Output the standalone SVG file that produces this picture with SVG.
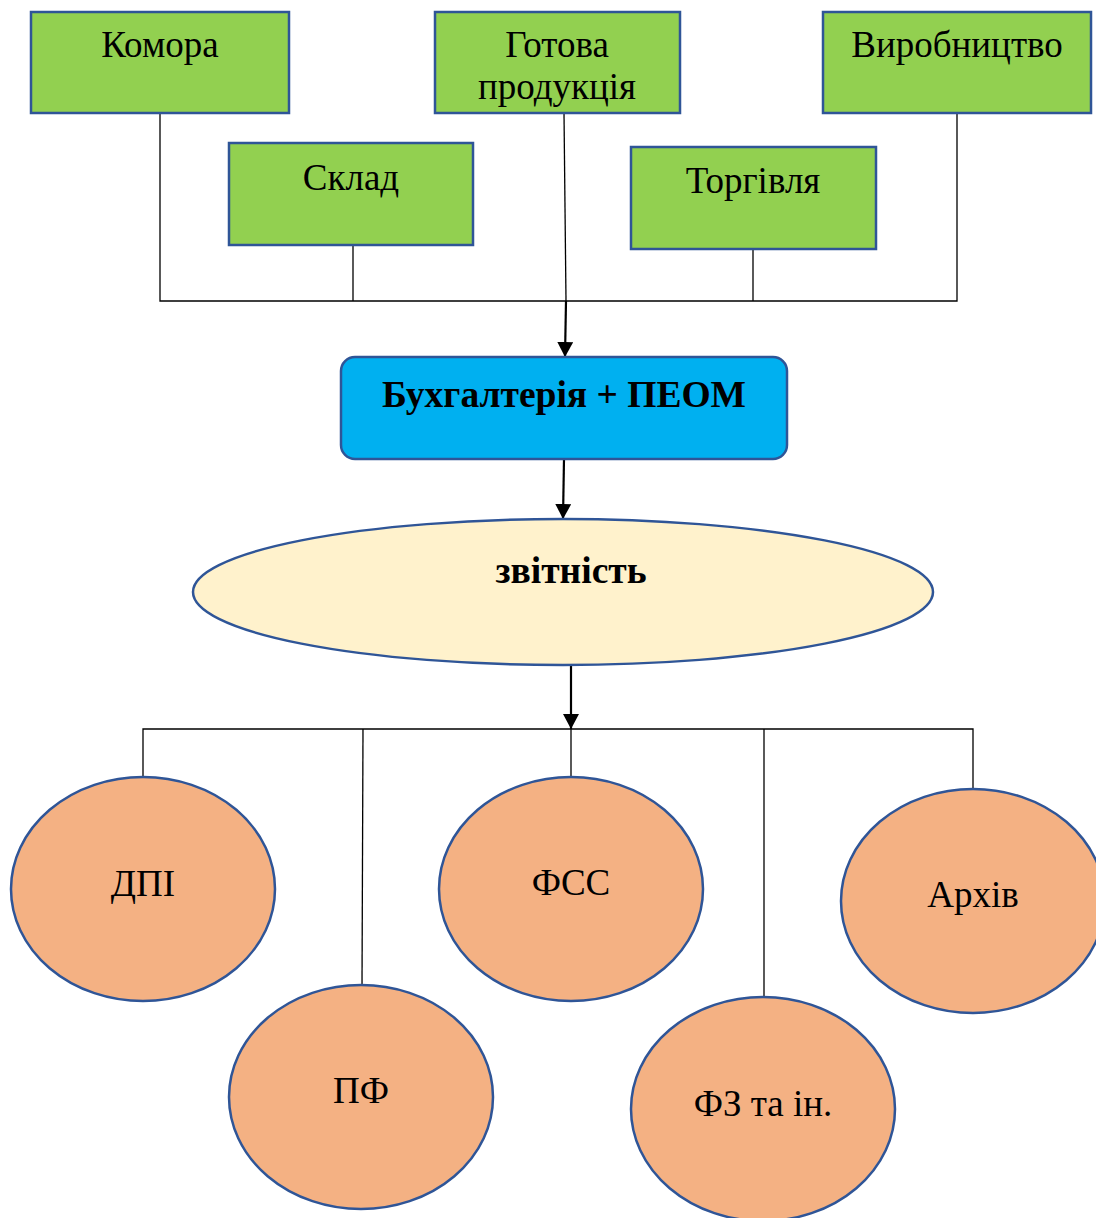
<svg xmlns="http://www.w3.org/2000/svg" width="1096" height="1218" viewBox="0 0 1096 1218">
<style>
.box{fill:#92D050;stroke:#2F5597;stroke-width:2.5}
.acc{fill:#00B0F0;stroke:#2F5597;stroke-width:2.5}
.rep{fill:#FFF2CC;stroke:#2F5597;stroke-width:2.5}
.org{fill:#F4B183;stroke:#2F5597;stroke-width:2.5}
text{font-family:"Liberation Serif","Times New Roman",serif;font-size:37px;fill:#000;text-anchor:middle}
.b{font-weight:bold;font-size:37.5px}
.ln{fill:none;stroke:#000;stroke-width:1.3}
.ar{fill:none;stroke:#000;stroke-width:2.2}
</style>
<defs>
<marker id="ah" markerUnits="userSpaceOnUse" markerWidth="16" markerHeight="16" refX="15" refY="8" orient="auto">
<path d="M0,0 L15,8 L0,16 Z" fill="#000"/>
</marker>
</defs>
<g id="connectors">
<polyline class="ln" points="160,113 160,301 957,301 957,113"/>
<line class="ln" x1="353" y1="245" x2="353" y2="301"/>
<line class="ln" x1="753" y1="249" x2="753" y2="301"/>
<line class="ln" x1="564" y1="113" x2="566" y2="301"/>
<line class="ar" x1="566" y1="301" x2="565" y2="357" marker-end="url(#ah)"/>
<line class="ar" x1="564" y1="459" x2="563" y2="519" marker-end="url(#ah)"/>
<line class="ar" x1="571" y1="665" x2="571" y2="729" marker-end="url(#ah)"/>
<polyline class="ln" points="143,777 143,729 973,729 973,790"/>
<line class="ln" x1="363" y1="729" x2="362" y2="986"/>
<line class="ln" x1="571" y1="729" x2="571" y2="777"/>
<line class="ln" x1="764" y1="729" x2="764" y2="997"/>
</g>
<g id="komora"><rect class="box" x="31" y="12" width="258" height="101"/><text x="160" y="57">Комора</text></g>
<g id="gotova"><rect class="box" x="435" y="12" width="245" height="101"/><text x="557" y="57">Готова</text><text x="557" y="99">продукція</text></g>
<g id="vyrobnytstvo"><rect class="box" x="823" y="12" width="268" height="101"/><text x="957" y="57">Виробництво</text></g>
<g id="sklad"><rect class="box" x="229" y="143" width="244" height="102"/><text x="351" y="190">Склад</text></g>
<g id="torgivlia"><rect class="box" x="631" y="147" width="245" height="102"/><text x="753" y="193">Торгівля</text></g>
<g id="buh"><rect class="acc" x="341" y="357" width="446" height="102" rx="14"/><text class="b" x="564" y="407">Бухгалтерія + ПЕОМ</text></g>
<g id="zvitnist"><ellipse class="rep" cx="563" cy="592" rx="370" ry="73"/><text class="b" x="571" y="583">звітність</text></g>
<g id="dpi"><ellipse class="org" cx="143" cy="889" rx="132" ry="112"/><text x="143" y="896">ДПІ</text></g>
<g id="fss"><ellipse class="org" cx="571" cy="889" rx="132" ry="112"/><text x="571" y="895">ФСС</text></g>
<g id="arkhiv"><ellipse class="org" cx="973" cy="901" rx="132" ry="112"/><text x="973" y="907">Архів</text></g>
<g id="pf"><ellipse class="org" cx="361" cy="1097" rx="132" ry="112"/><text x="361" y="1103">ПФ</text></g>
<g id="fz"><ellipse class="org" cx="763" cy="1109" rx="132" ry="112"/><text x="763" y="1116">ФЗ та ін.</text></g>
</svg>
